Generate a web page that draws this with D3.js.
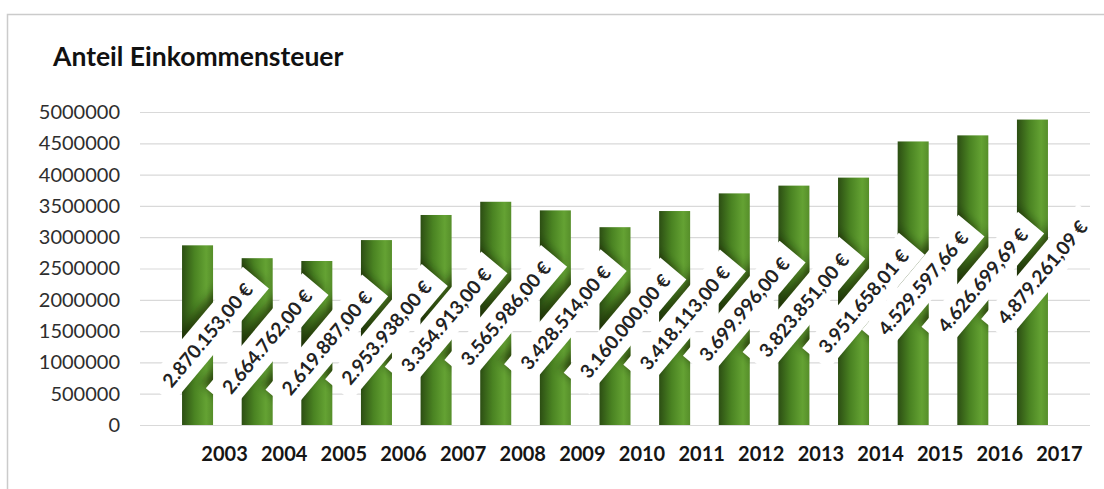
<!DOCTYPE html>
<html>
<head>
<meta charset="utf-8">
<script src="https://cdn.jsdelivr.net/npm/d3@7"></script>
<style>
  html, body { margin: 0; padding: 0; background: #fff; }
  svg { display: block; font-family: Lato, "Open Sans", sans-serif; }
</style>
</head>
<body>
<svg id="chart" width="1104" height="489"></svg>
<script>
// Anteil Einkommensteuer, 2003–2017
const years = ["2003", "2004", "2005", "2006", "2007", "2008", "2009", "2010",
               "2011", "2012", "2013", "2014", "2015", "2016", "2017"];
const amounts = [2870153.00, 2664762.00, 2619887.00, 2953938.00, 3354913.00,
                 3565986.00, 3428514.00, 3160000.00, 3418113.00, 3699996.00,
                 3823851.00, 3951658.01, 4529597.66, 4626699.69, 4879261.09];
const yTickValues = [0, 500000, 1000000, 1500000, 2000000, 2500000, 3000000,
                     3500000, 4000000, 4500000, 5000000];
const chartTitle = "Anteil Einkommensteuer";

const svg = d3.select("#chart");

const de = d3.formatLocale({ decimal: ",", thousands: ".", grouping: [3], currency: ["", " €"] });
const euro = de.format("$,.2f");

const plot = { left: 140, right: 1090, top: 112, bottom: 425 };

const x = d3.scaleBand()
  .domain(years)
  .range([plot.left, plot.right])
  .paddingInner(0.48)
  .paddingOuter(0.705);

const y = d3.scaleLinear()
  .domain([0, 5000000])
  .range([plot.bottom, plot.top]);

// defs: cylinder-like gradient for bars, blur for label shadows
const defs = svg.append("defs");
const grad = defs.append("linearGradient").attr("id", "barGrad")
  .attr("x1", 0).attr("x2", 1).attr("y1", 0).attr("y2", 0);
[[0, "#2c4e13"], [0.4, "#4a8322"], [0.78, "#64a233"], [1, "#568e2a"]].forEach(([o, c]) =>
  grad.append("stop").attr("offset", o).attr("stop-color", c));
defs.append("filter").attr("id", "soft")
  .attr("x", "-30%").attr("y", "-30%").attr("width", "160%").attr("height", "160%")
  .append("feGaussianBlur").attr("stdDeviation", 4);

// chart frame
svg.append("path")
  .attr("d", "M7.5,489 V14.5 H1104")
  .attr("fill", "none")
  .attr("stroke", "#cbcbcb")
  .attr("stroke-width", 1.5);

// title
svg.append("text")
  .attr("x", 53).attr("y", 66)
  .attr("font-size", 26.5).attr("font-weight", 700)
  .attr("fill", "#111")
  .text(chartTitle);

// gridlines
svg.append("g").selectAll("line")
  .data(yTickValues).join("line")
  .attr("x1", plot.left).attr("x2", plot.right)
  .attr("y1", d => y(d) + 0.5).attr("y2", d => y(d) + 0.5)
  .attr("stroke", "#d9d9d9").attr("stroke-width", 1.2);

// y axis labels
const yAxis = d3.axisLeft(y).tickValues(yTickValues).tickFormat(d3.format("d")).tickSize(0).tickPadding(0);
const yG = svg.append("g").attr("transform", "translate(120,0)").call(yAxis);
yG.select(".domain").remove();
yG.selectAll("text")
  .attr("font-family", "Lato, sans-serif")
  .attr("font-size", 20)
  .attr("fill", "#2e2e2e");

// x axis labels, set half a bar right of the bars
const xAxis = d3.axisBottom(x).tickSize(0).tickPadding(0);
const xG = svg.append("g").attr("transform", "translate(27,447)").call(xAxis);
xG.select(".domain").remove();
xG.selectAll("text")
  .attr("font-family", "Lato, sans-serif")
  .attr("font-size", 20)
  .attr("font-weight", 700)
  .attr("fill", "#151515");

const data = years.map((yr, i) => ({ year: yr, value: amounts[i] }));

// bars
svg.append("g").selectAll("rect")
  .data(data).join("rect")
  .attr("x", d => x(d.year))
  .attr("y", d => y(d.value))
  .attr("width", x.bandwidth())
  .attr("height", d => y(0) - y(d.value))
  .attr("fill", "url(#barGrad)");

// clip region = the bars, used for the label shadows
defs.append("clipPath").attr("id", "barClip")
  .selectAll("rect").data(data).join("rect")
  .attr("x", d => x(d.year))
  .attr("y", d => y(d.value))
  .attr("width", x.bandwidth())
  .attr("height", d => y(0) - y(d.value));

const angle = -50;
const boxH = 34;
const labelPos = d => [x(d.year) + x.bandwidth() / 2 + 10, (y(d.value) + y(0)) / 2];

// value labels on white boxes
const labels = svg.append("g").attr("class", "labels")
  .selectAll("g").data(data).join("g")
  .attr("transform", d => { const [cx, cy] = labelPos(d); return `translate(${cx},${cy}) rotate(${angle})`; });

const boxes = labels.append("rect").attr("fill", "#fff");
const texts = labels.append("text")
  .attr("text-anchor", "middle")
  .attr("dy", "0.36em")
  .attr("font-size", 19)
  .attr("font-weight", 700)
  .attr("fill", "#222")
  .text(d => euro(d.value));

texts.each(function (d) { d.boxW = this.getComputedTextLength() + 22; });
boxes
  .attr("x", d => -d.boxW / 2).attr("y", -boxH / 2)
  .attr("width", d => d.boxW).attr("height", boxH);

// darkened bar area next to each box
svg.insert("g", ".labels")
  .attr("clip-path", "url(#barClip)")
  .selectAll("rect").data(data).join("rect")
  .attr("transform", d => { const [cx, cy] = labelPos(d); return `translate(${cx - 4},${cy - 5}) rotate(${angle})`; })
  .attr("x", d => -d.boxW / 2).attr("y", -boxH / 2)
  .attr("width", d => d.boxW).attr("height", boxH)
  .attr("fill", "#132005")
  .attr("opacity", 0.65)
  .attr("filter", "url(#soft)");
</script>
</body>
</html>
